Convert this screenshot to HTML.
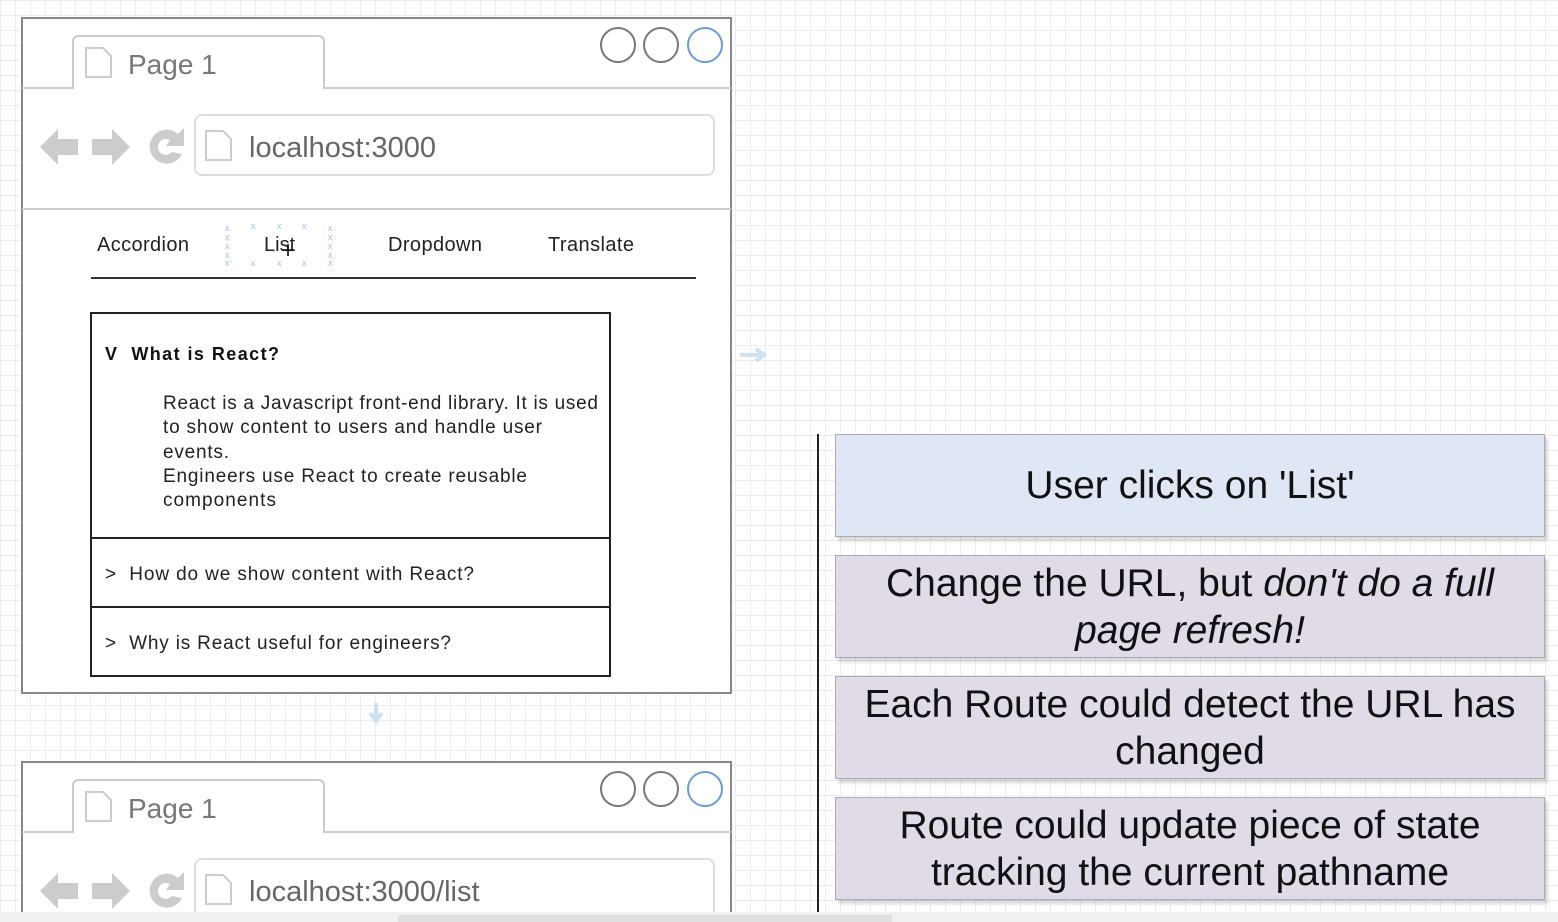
<!DOCTYPE html>
<html><head><meta charset="utf-8"><style>
html,body{margin:0;padding:0;}
body{width:1558px;height:922px;overflow:hidden;position:relative;background:#fff;
background-image:linear-gradient(#ececec 1px,transparent 1px),linear-gradient(90deg,#ececec 1px,transparent 1px);
background-size:15px 15px;font-family:"Liberation Sans",sans-serif;}
svg{position:absolute;left:0;top:0;}
.b{position:absolute;left:835px;width:710px;height:103px;border:1px solid #a9a9b8;box-sizing:border-box;display:flex;align-items:center;justify-content:center;font-size:39px;line-height:47px;color:#111;box-shadow:3px 4px 3px rgba(0,0,0,0.15);}
.b div{text-align:center;width:100%;}
</style></head><body>
<svg width="1558" height="922" font-family="Liberation Sans, sans-serif">
<defs>
<g id="chrome">
  <path d="M22 70 H73 V24 Q73 18 79 18 H318 Q324 18 324 24 V70 H731" fill="none" stroke="#ccc" stroke-width="2"/>
  <path d="M86 30 h17 l8 8 v21 h-25z" fill="#fff" stroke="#ccc" stroke-width="2"/>
  <text x="128" y="56" font-size="28" fill="#777">Page 1</text>
  <circle cx="618" cy="27" r="17" fill="#fff" stroke="#777" stroke-width="2"/>
  <circle cx="661" cy="27" r="17" fill="#fff" stroke="#777" stroke-width="2"/>
  <circle cx="705" cy="27" r="17" fill="#fff" stroke="#6a9be0" stroke-width="2"/>
  <path d="M40 129 L58 111 V121 H78 V137 H58 V147z" fill="#ccc"/>
  <path d="M130 129 L112 111 V121 H92 V137 H112 V147z" fill="#ccc"/>
  <path d="M178 116 A17 17 0 1 0 182 136 L172 134 A8 8 0 1 1 170 122 L166 128 H184 V110z" fill="#ccc"/>
  <rect x="195" y="97" width="519" height="60" rx="7" fill="#fff" stroke="#ddd" stroke-width="2"/>
  <path d="M206 113 h17 l8 8 v21 h-25z" fill="#fff" stroke="#ccc" stroke-width="2"/>
  <line x1="22" y1="191" x2="731" y2="191" stroke="#ccc" stroke-width="2"/>
</g>
</defs>
<rect x="22" y="18" width="709" height="675" fill="#fff" stroke="#888" stroke-width="2"/>
<g transform="translate(0,18)"><use href="#chrome"/></g>
<text x="249" y="157" font-size="29" fill="#666">localhost:3000</text>
<g font-size="20" fill="#222">
<text x="97" y="251" textLength="92">Accordion</text>
<text x="264" y="251">List</text>
<text x="388" y="251" textLength="94">Dropdown</text>
<text x="548" y="251" textLength="86">Translate</text>
</g>
<text x="281" y="258" font-size="24" fill="#111">+</text>
<g fill="#9cc3e8" font-size="9">
<text x="225" y="231">x</text><text x="225" y="240">x</text><text x="225" y="249">x</text><text x="225" y="258">x</text><text x="225" y="266">x</text>
<text x="328" y="231">x</text><text x="328" y="240">x</text><text x="328" y="249">x</text><text x="328" y="258">x</text><text x="328" y="266">x</text>
<text x="251" y="229">x</text><text x="277" y="229">x</text><text x="302" y="229">x</text>
<text x="251" y="266">x</text><text x="277" y="266">x</text><text x="302" y="266">x</text>
</g>
<line x1="91" y1="278" x2="696" y2="278" stroke="#333" stroke-width="2"/>
<rect x="91" y="313" width="519" height="363" fill="#fff" stroke="#222" stroke-width="2"/>
<line x1="91" y1="538" x2="610" y2="538" stroke="#222" stroke-width="2"/>
<line x1="91" y1="607" x2="610" y2="607" stroke="#222" stroke-width="2"/>
<text x="105" y="360" font-size="18" font-weight="bold" fill="#111" textLength="174">V&#160; What is React?</text>
<g font-size="19" fill="#222">
<text x="163" y="409" textLength="435">React is a Javascript front-end library. It is used</text>
<text x="163" y="433" textLength="379">to show content to users and handle user</text>
<text x="163" y="458" textLength="66">events.</text>
<text x="163" y="482" textLength="364">Engineers use React to create reusable</text>
<text x="163" y="506" textLength="113">components</text>
<text x="105" y="580" textLength="369">&gt;&#160; How do we show content with React?</text>
<text x="105" y="649" textLength="346">&gt;&#160; Why is React useful for engineers?</text>
</g>
<path d="M376 703 v16 M370 713 l6 8 l6 -8" stroke="#cfe0f0" stroke-width="4" fill="none"/>
<path d="M740 355 h22 M756 349 l8 6 l-8 6" stroke="#cfe0f0" stroke-width="4" fill="none"/>
<rect x="22" y="762" width="709" height="170" fill="#fff" stroke="#888" stroke-width="2"/>
<g transform="translate(0,762)"><use href="#chrome"/></g>
<text x="249" y="901" font-size="29" fill="#666">localhost:3000/list</text>
<line x1="818" y1="434" x2="818" y2="912" stroke="#222" stroke-width="2"/>
<rect x="0" y="912" width="1558" height="10" fill="#f0f0f0"/>
<rect x="398" y="915" width="494" height="7" fill="#e0e0e0"/>
</svg>
<div class="b" style="top:434px;background:#dfe7f5;"><div>User clicks on 'List'</div></div>
<div class="b" style="top:555px;background:#e1dbe7;"><div>Change the URL, but <i>don't do a full</i><br><i>page refresh!</i></div></div>
<div class="b" style="top:676px;background:#e1dbe7;"><div>Each Route could detect the URL has<br>changed</div></div>
<div class="b" style="top:797px;background:#e1dbe7;"><div>Route could update piece of state<br>tracking the current pathname</div></div>
</body></html>
